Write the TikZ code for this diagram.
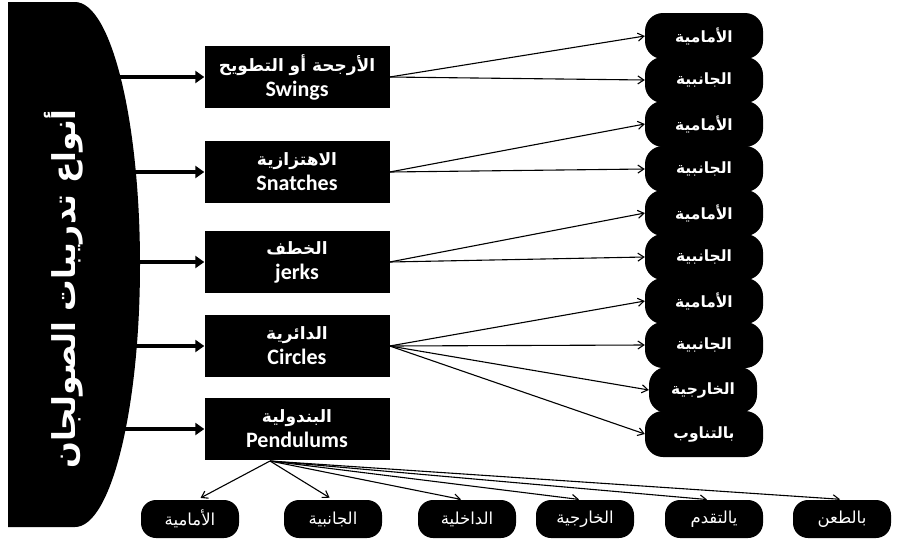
\documentclass[tikz,border=0pt]{standalone}
\usepackage{fontspec}
\setmainfont{Carlito}
\newfontfamily\arabicfont[Script=Arabic]{DejaVu Sans}
\TeXXeTstate=1
\newcommand\ar[1]{{\arabicfont\fontsize{17}{21}\selectfont\beginR #1\endR}}
\usetikzlibrary{arrows.meta}
\begin{document}
\begin{tikzpicture}[x=1pt,y=-1pt,
  box/.style={fill=black,text=white,minimum width=185pt,minimum height=62pt,align=center,inner sep=2pt,font=\bfseries\fontsize{22}{25}\selectfont},
  side/.style={fill=black,text=white,rounded corners=18pt,minimum width=118pt,minimum height=46pt,font=\bfseries\fontsize{15.5}{17}\selectfont},
  foot/.style={fill=black,text=white,rounded corners=15pt,minimum width=98pt,minimum height=38pt,font=\fontsize{16.5}{18}\selectfont},
  feed/.style={line width=3.5pt,-{Triangle[length=9pt,width=12pt]}},
  link/.style={line width=1.1pt,-{Straight Barb[length=6pt,width=8pt]}}]
 \useasboundingbox (0,0) rectangle (897,544);
 \fill (8,2) -- (75,2) arc[start angle=-90,end angle=90,x radius=65,y radius=262.5] -- (8,527) -- cycle;
 \node [rotate=90,text=white,font=\bfseries\fontsize{31.5}{34}\selectfont] (title) at (64,289) {{\arabicfont\beginR أنواع تدريبات الصولجان\endR}};
 \coordinate (src) at (100,264);
 \node [box] (swing) at (297,77) {\ar{الأرجحة أو التطويح}\\Swings};
 \node [box] (snatch) at (297,172) {\ar{الاهتزازية}\\Snatches};
 \node [box] (jerk) at (297,262) {\ar{الخطف}\\jerks};
 \node [box] (circ) at (297,346) {\ar{الدائرية}\\Circles};
 \node [box] (pend) at (297,429) {\ar{البندولية}\\Pendulums};
 \draw [feed] (src |- swing) -- (swing);
 \draw [feed] (src |- snatch) -- (snatch);
 \draw [feed] (src |- jerk) -- (jerk);
 \draw [feed] (src |- circ) -- (circ);
 \draw [feed] (src |- pend) -- (pend);
 \node [side] (r1) at (704,36) {{\arabicfont\beginR الأمامية\endR}};
 \node [side] (r2) at (704,80) {{\arabicfont\beginR الجانبية\endR}};
 \node [side] (r3) at (704,124) {{\arabicfont\beginR الأمامية\endR}};
 \node [side] (r4) at (704,169) {{\arabicfont\beginR الجانبية\endR}};
 \node [side] (r5) at (704,213) {{\arabicfont\beginR الأمامية\endR}};
 \node [side] (r6) at (704,257) {{\arabicfont\beginR الجانبية\endR}};
 \node [side] (r7) at (704,301) {{\arabicfont\beginR الأمامية\endR}};
 \node [side] (r8) at (704,345) {{\arabicfont\beginR الجانبية\endR}};
 \node [side,minimum width=108pt] (r9) at (703,390) {{\arabicfont\beginR الخارجية\endR}};
 \node [side] (r10) at (704,434) {{\arabicfont\beginR بالتناوب\endR}};
 \draw [link] (swing.east) -- (r1.west);
 \draw [link] (swing.east) -- (r2.west);
 \draw [link] (snatch.east) -- (r3.west);
 \draw [link] (snatch.east) -- (r4.west);
 \draw [link] (jerk.east) -- (r5.west);
 \draw [link] (jerk.east) -- (r6.west);
 \draw [link] (circ.east) -- (r7.west);
 \draw [link] (circ.east) -- (r8.west);
 \draw [link] (circ.east) -- (r9.west);
 \draw [link] (circ.east) -- (r10.west);
 \node [foot] (b1) at (190,519) {{\arabicfont\beginR الأمامية\endR}};
 \node [foot] (b2) at (333,519) {{\arabicfont\beginR الجانبية\endR}};
 \node [foot] (b3) at (467,519) {{\arabicfont\beginR الداخلية\endR}};
 \node [foot] (b4) at (585,519) {{\arabicfont\beginR الخارجية\endR}};
 \node [foot] (b5) at (714,519) {{\arabicfont\beginR يالتقدم\endR}};
 \node [foot] (b6) at (842,519) {{\arabicfont\beginR بالطعن\endR}};
 \coordinate (pout) at (270,461);
 \draw [link,shorten >=4pt] (pout) -- ([xshift=7pt]b1.north);
 \draw [link,shorten >=4pt] (pout) -- (b2.north);
 \draw [link,shorten >=2pt] (pout) -- ([xshift=-4pt]b3.north);
 \draw [link,shorten >=3pt] (pout) -- ([xshift=-3pt]b4.north);
 \draw [link,shorten >=3pt] (pout) -- ([xshift=-4pt]b5.north);
 \draw [link,shorten >=8pt] (pout) -- ([xshift=6pt]b6.north);
\end{tikzpicture}
\end{document}
